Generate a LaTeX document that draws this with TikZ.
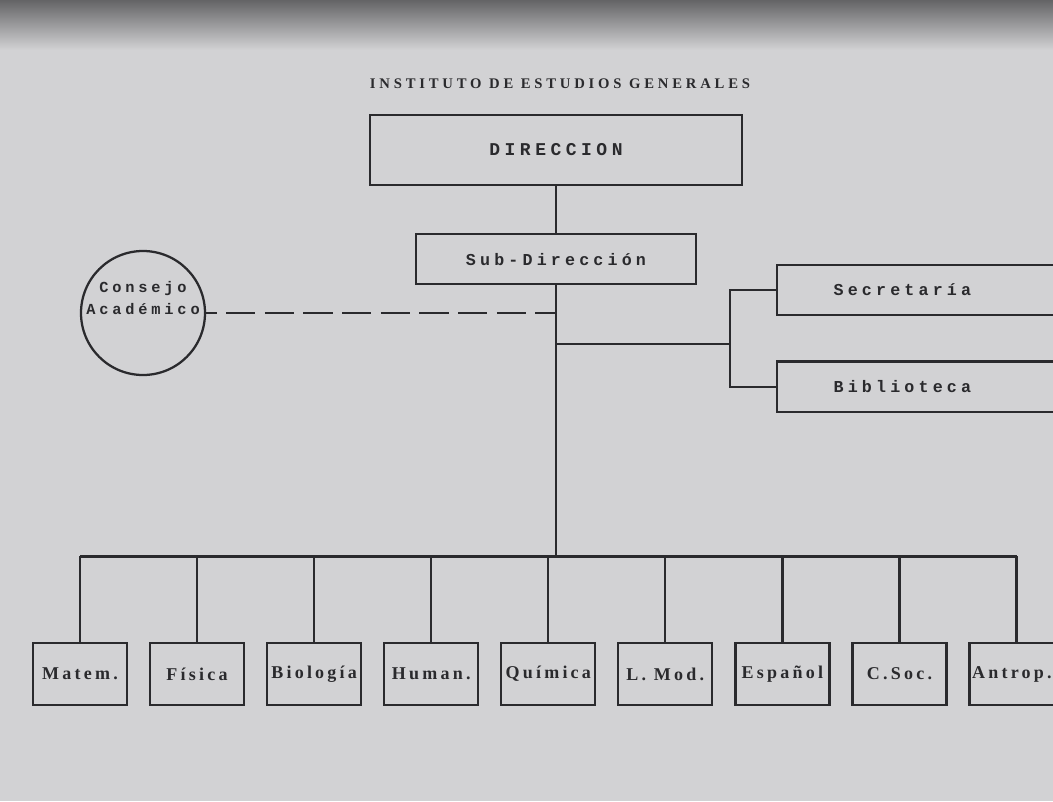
\documentclass[tikz,border=0pt]{standalone}
\usepackage{fontspec}
\setmainfont{Liberation Serif}
\newfontfamily\typewr[LetterSpace=25]{Liberation Mono}
\newfontfamily\titlefont[LetterSpace=26]{Liberation Serif}
\newfontfamily\deptfont[LetterSpace=18]{Liberation Serif}
\usetikzlibrary{positioning,calc}
\definecolor{paper}{RGB}{210,210,212}
\definecolor{shadow}{RGB}{100,100,102}
\definecolor{ink}{RGB}{42,42,45}

\begin{document}
\begin{tikzpicture}[
  x=0.75pt,y=-0.75pt,
  line/.style={draw=ink,line width=1.7pt},
  box/.style={line,text=ink,inner sep=0pt,
              font=\typewr\bfseries\fontsize{12.5}{14}\selectfont},
  dept/.style={box,minimum width=70.5pt,minimum height=46pt,
               font=\deptfont\bfseries\fontsize{13.5}{15}\selectfont},
  dashline/.style={line,dash pattern=on 22pt off 7pt,dash phase=14pt}
]
\useasboundingbox (0,0) rectangle (1053,801);
\fill[paper] (0,0) rectangle (1053,801);
\shade[top color=shadow,bottom color=paper] (0,0) rectangle (1053,50);

\node[text=ink,font=\titlefont\bfseries\fontsize{11}{13}\selectfont] (title) at (560,84)
  {INSTITUTO DE ESTUDIOS GENERALES};
\node[box,minimum width=279pt,minimum height=53pt,
      font=\typewr\bfseries\fontsize{13.5}{15}\selectfont] (dir) at (556,150) {DIRECCION};
\node[box,minimum width=210pt,minimum height=37.5pt,below=35pt of dir] (sub) {Sub-Dirección};
\node[box,circle,minimum size=93pt,
      label={[align=center,yshift=11pt,text=ink,
              font=\typewr\bfseries\fontsize{11.5}{16.5}\selectfont]center:Consejo\\Académico}]
  (cons) at (143,313) {};
\node[box,minimum width=216pt,minimum height=38pt] (sec) at (921,290) {Secretaría\hspace*{28pt}};
\node[box,minimum width=216pt,minimum height=38pt,below=33pt of sec] (bib) {Biblioteca\hspace*{28pt}};

% departments
\node[dept] (mat) at (80,674) {Matem.};
\node[dept,right=15.6pt of mat] (fis) {Física};
\node[dept,right=15.6pt of fis] (bio) {Biología};
\node[dept,right=15.6pt of bio] (hum) {Human.};
\node[dept,right=15.6pt of hum] (qui) {Química};
\node[dept,right=15.6pt of qui] (lmo) {L. Mod.};
\node[dept,right=15.6pt of lmo] (esp) {Español};
\node[dept,right=15.6pt of esp] (soc) {C.Soc.};
\node[dept,right=15.6pt of soc] (ant) {Antrop.\hspace*{7pt}};

\coordinate (hub) at ($(sub.south)+(0,271)$);
\coordinate (fork) at ($(sec.west)!0.56!(bib.west)+(-46,0)$);
\draw[line] (dir) -- (sub); \draw[line] (sub) -- (hub);
\draw[dashline] (cons) -- (cons -| sub);
% side branch to the offices
\draw[line] (fork -| sub) -- (fork);
\draw[line] (sec.west) -| (fork) |- (bib.west);
% bus to the departments
\draw[line] (mat |- hub) -- (ant |- hub);
\draw[line] (mat) -- (mat |- hub); \draw[line] (fis) -- (fis |- hub);
\draw[line] (bio) -- (bio |- hub); \draw[line] (hum) -- (hum |- hub);
\draw[line] (qui) -- (qui |- hub); \draw[line] (lmo) -- (lmo |- hub);
\draw[line] (esp) -- (esp |- hub); \draw[line] (soc) -- (soc |- hub);
\draw[line] (ant) -- (ant |- hub);
\end{tikzpicture}
\end{document}
